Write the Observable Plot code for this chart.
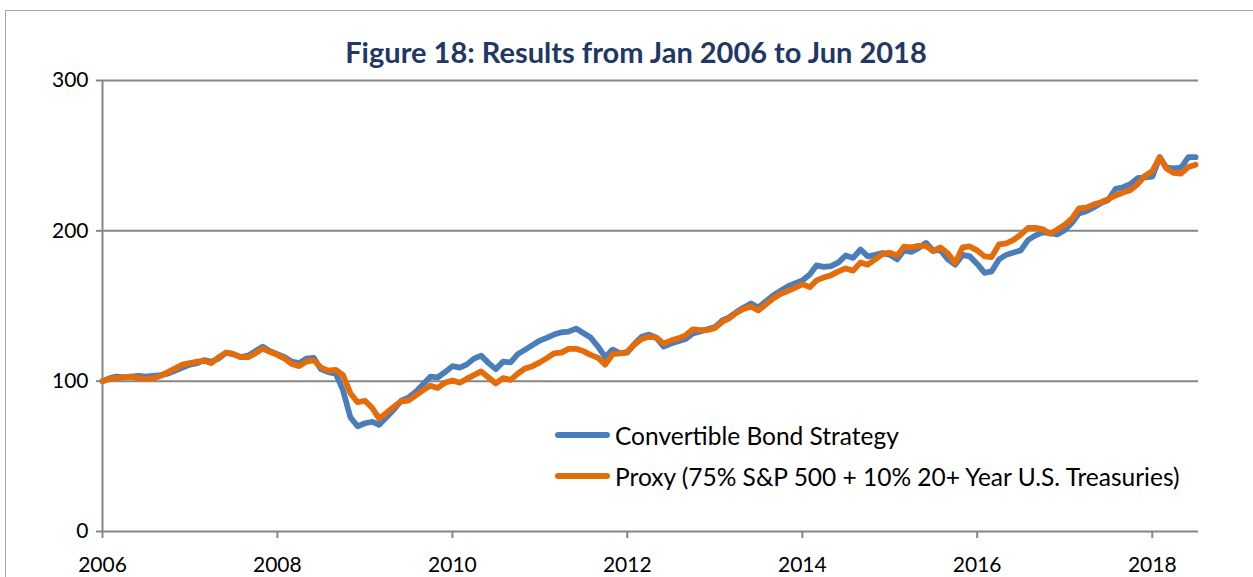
<!DOCTYPE html>
<html>
<head>
<meta charset="utf-8">
<script src="https://cdn.jsdelivr.net/npm/d3@7"></script>
<script src="https://cdn.jsdelivr.net/npm/@observablehq/plot@0.6"></script>
<style>
  html, body { margin: 0; padding: 0; background: #fff; }
  #wrap { position: relative; width: 1253px; height: 577px; overflow: hidden; font-family: Lato, "Open Sans", sans-serif; }
  #frame { position: absolute; left: 5px; top: 10px; width: 1300px; height: 700px; border-left: 1.5px solid #a6a6a6; border-top: 1.5px solid #a6a6a6; }
  #title { position: absolute; left: 0; width: 1272px; top: 35px; text-align: center; font-weight: bold; font-size: 29px; line-height: 34px; color: #1F3864; }
  #chart { position: absolute; left: 0; top: 0; }
  .leg { position: absolute; left: 555px; height: 30px; display: flex; align-items: center; font-size: 24.5px; color: #000; white-space: nowrap; }
  .leg .sw { width: 55px; height: 6px; border-radius: 3px; margin-right: 5px; }
</style>
</head>
<body>
<div id="wrap">
  <div id="frame"></div>
  <div id="chart"></div>
  <div id="title">Figure 18: Results from Jan 2006 to Jun 2018</div>
  <div id="legend"></div>
</div>
<script>
// Series names and colours
const seriesNames = ["Convertible Bond Strategy", "Proxy (75% S&P 500 + 10% 20+ Year U.S. Treasuries)"];
const seriesColors = ["#4A7EBB", "#E46C0A"];

// Monthly index values, Jan 2006 (start = 100) through end of Jun 2018
const convertible = [
  100, 102, 103, 102.5, 103, 103.5, 103, 103.5, 104, 105, 107, 109,
  111, 112, 114, 113, 115, 119, 118, 116, 117, 120, 123, 120,
  118, 116, 113, 112, 115, 115.5, 108, 106, 105, 94, 76, 70,
  72, 73, 71, 76, 81, 87, 89, 93, 98, 103, 102.5, 106,
  110, 109, 111, 115, 117, 112, 108, 113, 112.5, 118, 121, 124,
  127, 129, 131, 132.5, 133, 135, 132, 129, 123, 116, 121, 118.5,
  119, 125, 129.5, 131, 129, 123, 125, 126.5, 128, 131.7, 133, 134.5,
  136, 140.5, 142.4, 146, 149, 151.7, 149, 153, 157, 160, 163, 165,
  167, 171, 177, 176, 176.5, 179, 183.6, 182, 187.6, 183, 184, 185.3,
  184, 181, 187, 186, 188.5, 192, 187, 187, 181, 177.5, 184, 183,
  178, 172, 173, 181, 184, 185.6, 187, 194, 197, 199, 198.5, 197.6,
  200.5, 205.5, 211.6, 213, 215.5, 218.5, 220.5, 228, 229, 231, 235, 235.5,
  236, 249, 242, 241.5, 242, 249, 249
];
const proxy = [
  100, 101.5, 102, 102.5, 103, 102, 101.5, 101.8, 103.5, 106, 108.5, 111,
  112, 113, 113.5, 112, 116, 119, 118, 116, 116, 118.5, 121.7, 119.5,
  117.5, 115, 111.5, 110, 113, 114, 109, 107, 107.5, 104, 92, 86,
  87, 82, 75, 79, 83, 86.5, 87, 90.5, 94, 97, 95.5, 99,
  100.5, 99, 101.5, 104, 106.5, 102.5, 98.5, 102, 100.8, 105, 108.5, 110,
  112.5, 115.5, 118.5, 119, 121.5, 121.5, 120, 117.5, 115.5, 111, 118, 118.4,
  119.5, 124.5, 128, 129.5, 129, 125, 127, 128.5, 130.5, 134.5, 134, 134,
  135.3, 139.5, 141.7, 145.5, 148, 149.7, 147, 151, 155, 158, 160, 162,
  164.5, 162.5, 167, 169, 170.5, 173, 175, 173.5, 179, 177.5, 181, 184.5,
  185.5, 183.5, 189.5, 189, 190, 190, 186.5, 189, 185, 178.5, 189, 189.6,
  187, 183, 182.5, 191, 191.6, 194, 197.5, 202, 202, 201, 198, 201,
  204, 208.5, 215, 215.4, 217.5, 219, 221, 223.5, 225.5, 227, 231, 236.5,
  239.6, 249, 241.5, 238.5, 238, 242.5, 244
];

// Axis ticks
const yTicks = [0, 100, 200, 300];
const xTickLabels = ["2006", "2008", "2010", "2012", "2014", "2016", "2018"];

// Build the table
const start = new Date(Date.UTC(2006, 0, 1));
const months = d3.utcMonth.range(start, d3.utcMonth.offset(start, convertible.length));
const rows = [];
seriesNames.forEach((name, si) => {
  const vals = si === 0 ? convertible : proxy;
  vals.forEach((v, i) => rows.push({ series: name, date: months[i], value: v }));
});
const xTicks = xTickLabels.map(y => new Date(Date.UTC(+y, 0, 1)));
const xDomain = [start, new Date(Date.UTC(2018, 6, 13))];

const chart = Plot.plot({
  width: 1253,
  height: 577,
  marginLeft: 102,
  marginRight: 55,
  marginTop: 80,
  marginBottom: 46,
  style: { fontFamily: "Lato, 'Open Sans', sans-serif", fontSize: "21px", color: "#000", background: "transparent" },
  x: { type: "utc", domain: xDomain },
  y: { domain: [0, 300] },
  color: { domain: seriesNames, range: seriesColors },
  marks: [
    Plot.ruleY(yTicks, { stroke: "#868686", strokeWidth: 2 }),
    Plot.ruleX([start], { y1: 0, y2: 300, stroke: "#868686", strokeWidth: 2 }),
    Plot.axisY({ ticks: yTicks, tickSize: 6, tickPadding: 8, stroke: "#868686", strokeWidth: 2, label: null, fontSize: 21, fill: "#000" }),
    Plot.axisX({ ticks: xTicks, tickFormat: d3.utcFormat("%Y"), tickSize: 7, tickPadding: 19, stroke: "#868686", strokeWidth: 2, label: null, fontSize: 21, fill: "#000" }),
    Plot.line(rows, { x: "date", y: "value", stroke: "series", z: "series", strokeWidth: 5.75, strokeLinejoin: "round", strokeLinecap: "round" })
  ]
});
document.getElementById("chart").appendChild(chart);

// Legend
const legend = document.getElementById("legend");
const legTops = [420, 461];
seriesNames.forEach((name, i) => {
  const d = document.createElement("div");
  d.className = "leg";
  d.style.top = legTops[i] + "px";
  d.innerHTML = `<span class="sw" style="background:${seriesColors[i]}"></span><span></span>`;
  d.lastChild.textContent = name;
  legend.appendChild(d);
});
</script>
</body>
</html>
